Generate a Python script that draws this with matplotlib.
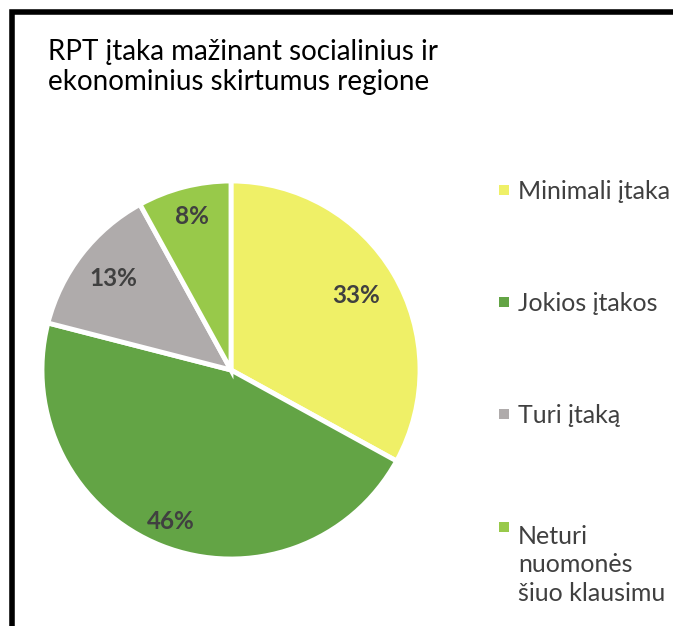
import numpy as np
import matplotlib.pyplot as plt
from matplotlib.lines import Line2D
from matplotlib.patches import Rectangle

plt.rcParams['font.family'] = ['Lato', 'DejaVu Sans']

labels = ['Minimali įtaka', 'Jokios įtakos', 'Turi įtaką', 'Neturi\nnuomonės\nšiuo klausimu']
values = [33, 46, 13, 8]
colors = ['#EFF067', '#63A445', '#AFABAB', '#98C94A']
title = 'RPT įtaka mažinant socialinius ir\nekonominius skirtumus regione'
# how far out each percentage label sits (fraction of radius)
label_dist = [0.77, 0.86, 0.79, 0.84]

W, H = 673, 626
fig = plt.figure(figsize=(W / 100, H / 100), dpi=100)

# pie axes: centre (231, 370) px, radius 189 px
cx, cy, r = 231, 370, 189
ax = fig.add_axes([(cx - r) / W, (H - cy - r) / H, 2 * r / W, 2 * r / H])
wedges, texts, autotexts = ax.pie(
    values, colors=colors, startangle=90, counterclock=False,
    autopct='%d%%', pctdistance=0.8,
    wedgeprops=dict(edgecolor='white', linewidth=3.5),
    textprops=dict(fontsize=17.5, fontweight='bold', color='#404040'))
for w, t, d in zip(wedges, autotexts, label_dist):
    ang = np.deg2rad((w.theta1 + w.theta2) / 2)
    t.set_position((d * np.cos(ang), d * np.sin(ang)))
ax.set_xlim(-1.0, 1.0)
ax.set_ylim(-1.0, 1.0)
ax.set_aspect('equal')

# title (baseline of last line at y=90 px)
fig.text(48 / W, 1 - 90 / H, title, fontsize=20, color='#000000',
         va='baseline', ha='left', linespacing=1.18)

# legend drawn by hand
leg_y = [190, 302, 414, 527]
for lab, col, y in zip(labels, colors, leg_y):
    fig.patches.append(Rectangle((499 / W, 1 - (y + 5) / H), 10 / W, 10 / H,
                                 facecolor=col, edgecolor='none',
                                 transform=fig.transFigure))
    n = lab.count('\n')
    fig.text(518 / W, 1 - (y + 9 + 32.5 * n) / H, lab, fontsize=18,
             color='#404040', va='baseline', ha='left', linespacing=1.3)

# black frame (top and left)
fig.add_artist(Line2D([12 / W, 12 / W, 1], [0, 1 - 12 / H, 1 - 12 / H],
                      color='black', linewidth=4, transform=fig.transFigure,
                      solid_joinstyle='miter'))

fig.savefig('out.png', dpi=100)
